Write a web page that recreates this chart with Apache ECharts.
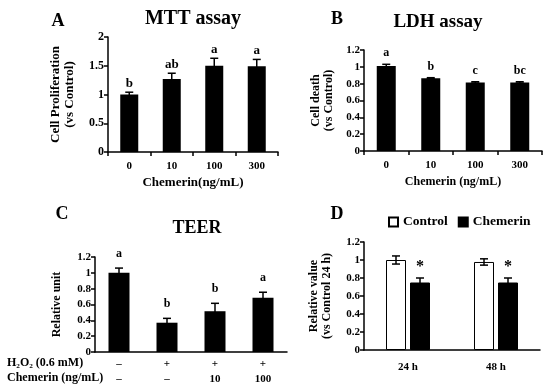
<!DOCTYPE html>
<html><head><meta charset="utf-8">
<script src="https://cdn.jsdelivr.net/npm/echarts@6/dist/echarts.min.js"></script>
<style>html,body{margin:0;padding:0;background:#fff}#c{width:550px;height:390px}</style>
</head><body><div id="c"></div>
<script>
// ---- Panel A: MTT assay ----
const mttCategories = ['0', '10', '100', '300'];
const mttValues = [1.00, 1.27, 1.50, 1.49];
const mttErrors = [0.04, 0.10, 0.13, 0.12];
const mttLetters = ['b', 'ab', 'a', 'a'];
const mttYTicks = [0, 0.5, 1, 1.5, 2];
// ---- Panel B: LDH assay ----
const ldhCategories = ['0', '10', '100', '300'];
const ldhValues = [1.01, 0.865, 0.815, 0.815];
const ldhErrors = [0.02, 0.006, 0.008, 0.008];
const ldhLetters = ['a', 'b', 'c', 'bc'];
const ldhYTicks = [0, 0.2, 0.4, 0.6, 0.8, 1, 1.2];
// ---- Panel C: TEER ----
const teerH2O2Row = ['–', '+', '+', '+'];
const teerChemerinRow = ['–', '–', '10', '100'];
const teerValues = [1.00, 0.37, 0.515, 0.685];
const teerErrors = [0.06, 0.055, 0.10, 0.07];
const teerLetters = ['a', 'b', 'b', 'a'];
const teerYTicks = [0, 0.2, 0.4, 0.6, 0.8, 1, 1.2];
// ---- Panel D ----
const timeCategories = ['24 h', '48 h'];
const controlValues = [1.00, 0.978];
const controlErrors = [0.045, 0.035];
const chemerinValues = [0.75, 0.75];
const chemerinErrors = [0.05, 0.05];
const chemerinMarks = ['*', '*'];
const dYTicks = [0, 0.2, 0.4, 0.6, 0.8, 1, 1.2];

const FONT = '"Liberation Serif", "Times New Roman", serif';
const chart = echarts.init(document.getElementById('c'), null, {renderer: 'canvas'});

function yAxisFrom(ticks, gridIndex, name, nameGap, nameSize, labelSize) {
  return {
    type: 'value', gridIndex, min: ticks[0], max: ticks[ticks.length - 1],
    interval: ticks[1] - ticks[0],
    splitLine: {show: false},
    axisLine: {show: true, lineStyle: {color: '#000', width: 1.5}},
    axisTick: {show: true, length: 4, lineStyle: {color: '#000', width: 1.5}},
    axisLabel: {color: '#000', fontFamily: FONT, fontWeight: 'bold', fontSize: labelSize, margin: 4},
    name, nameLocation: 'middle', nameRotate: 90, nameGap,
    nameTextStyle: {color: '#000', fontFamily: FONT, fontWeight: 'bold', fontSize: nameSize, lineHeight: nameSize + 1}
  };
}
function xAxisFrom(cats, gridIndex, opts) {
  return Object.assign({
    type: 'category', gridIndex, data: cats,
    axisLine: {show: true, lineStyle: {color: '#000', width: 1.5}},
    axisTick: {show: true, length: 4, inside: false, lineStyle: {color: '#000', width: 1.5}},
    axisLabel: {color: '#000', fontFamily: FONT, fontWeight: 'bold', fontSize: 11, margin: 9}
  }, opts);
}
function errSeries(idx, values, errors, labels, offset, dist, labelSize, cap) {
  return {
    type: 'custom', xAxisIndex: idx, yAxisIndex: idx, z: 5,
    data: values.map((v, i) => [i, v, errors[i]]),
    renderItem: function (params, api) {
      const i = api.value(0), v = api.value(1), e = api.value(2);
      const top = api.coord([i, v + e]);
      const bot = api.coord([i, v - e]);
      const x = top[0] + offset;
      const children = [
        {type: 'line', shape: {x1: x, y1: top[1], x2: x, y2: bot[1]}, style: {stroke: '#000', lineWidth: 1.5}},
        {type: 'line', shape: {x1: x - cap, y1: top[1], x2: x + cap, y2: top[1]}, style: {stroke: '#000', lineWidth: 1.5}},
        {type: 'line', shape: {x1: x - cap, y1: bot[1], x2: x + cap, y2: bot[1]}, style: {stroke: '#000', lineWidth: 1.5}}
      ];
      const t = labels ? labels[params.dataIndex] : '';
      if (t) {
        children.push({type: 'text', x: x, y: top[1] - dist,
          style: {text: t, fill: '#000', fontFamily: FONT, fontWeight: 'bold', fontSize: labelSize, align: 'center', verticalAlign: 'bottom'}});
      }
      return {type: 'group', children};
    }
  };
}
function txt(text, x, y, size, align) {
  return {type: 'text', x, y, style: {text, fill: '#000', fontFamily: FONT, fontWeight: 'bold', fontSize: size, align: align || 'center', verticalAlign: 'middle'}};
}

const option = {
  animation: false,
  backgroundColor: '#fff',
  grid: [
    {left: 108, top: 37, width: 170, height: 115},
    {left: 364, top: 50, width: 178, height: 101},
    {left: 95, top: 257, width: 192, height: 95},
    {left: 364, top: 242, width: 176, height: 108}
  ],
  legend: {
    left: 383, top: 210, itemWidth: 9, itemHeight: 9, itemGap: 10, icon: 'rect',
    data: ['Control', 'Chemerin'],
    textStyle: {color: '#000', fontFamily: FONT, fontWeight: 'bold', fontSize: 13.5}
  },
  xAxis: [
    xAxisFrom(mttCategories, 0, {name: 'Chemerin(ng/mL)', nameLocation: 'middle', nameGap: 24,
      nameTextStyle: {color: '#000', fontFamily: FONT, fontWeight: 'bold', fontSize: 13}}),
    xAxisFrom(ldhCategories, 1, {name: 'Chemerin (ng/mL)', nameLocation: 'middle', nameGap: 25,
      nameTextStyle: {color: '#000', fontFamily: FONT, fontWeight: 'bold', fontSize: 12}}),
    xAxisFrom(teerH2O2Row.map((h, i) => h + '\n' + teerChemerinRow[i]), 2, {
      axisTick: {show: false},
      axisLabel: {color: '#000', fontFamily: FONT, fontWeight: 'bold', fontSize: 11, margin: 5, lineHeight: 15}}),
    xAxisFrom(timeCategories, 3, {axisTick: {show: false},
      axisLabel: {color: '#000', fontFamily: FONT, fontWeight: 'bold', fontSize: 11, margin: 12}})
  ],
  yAxis: [
    yAxisFrom(mttYTicks, 0, 'Cell Proliferation\n(vs Control)', 31, 13, 12),
    yAxisFrom(ldhYTicks, 1, 'Cell death\n(vs Control)', 29, 12, 11),
    yAxisFrom(teerYTicks, 2, 'Relative unit', 32, 12, 11),
    yAxisFrom(dYTicks, 3, 'Relative value\n(vs Control 24 h)', 31, 12, 11)
  ],
  series: [
    {type: 'bar', xAxisIndex: 0, yAxisIndex: 0, data: mttValues, barWidth: 18, itemStyle: {color: '#000'}},
    errSeries(0, mttValues, mttErrors, mttLetters, 0, 2, 13, 4),
    {type: 'bar', xAxisIndex: 1, yAxisIndex: 1, data: ldhValues, barWidth: 19, itemStyle: {color: '#000'}},
    errSeries(1, ldhValues, ldhErrors, ldhLetters, 0, 5, 12, 4),
    {type: 'bar', xAxisIndex: 2, yAxisIndex: 2, data: teerValues, barWidth: 21, itemStyle: {color: '#000'}},
    errSeries(2, teerValues, teerErrors, teerLetters, 0, 8, 12, 4),
    {name: 'Control', type: 'bar', xAxisIndex: 3, yAxisIndex: 3, data: controlValues, barWidth: 20, barGap: '20%',
      itemStyle: {color: '#fff', borderColor: '#000', borderWidth: 1}},
    {name: 'Chemerin', type: 'bar', xAxisIndex: 3, yAxisIndex: 3, data: chemerinValues, barWidth: 20, barGap: '20%',
      itemStyle: {color: '#000', borderColor: '#000', borderWidth: 1}},
    errSeries(3, controlValues, controlErrors, null, -12, 0, 12, 4),
    errSeries(3, chemerinValues, chemerinErrors, chemerinMarks, 12, 3, 16, 4)
  ],
  graphic: [
    txt('A', 58, 21, 18), txt('MTT assay', 193, 19, 20),
    txt('B', 337, 19, 18), txt('LDH assay', 438, 22, 19),
    txt('C', 62, 214, 18), txt('TEER', 197, 228, 18),
    txt('D', 337, 214, 18),
    txt('H₂O₂ (0.6 mM)', 7, 363, 12, 'left'),
    txt('Chemerin (ng/mL)', 7, 378, 12, 'left')
  ]
};
chart.setOption(option);
</script>
</body></html>
